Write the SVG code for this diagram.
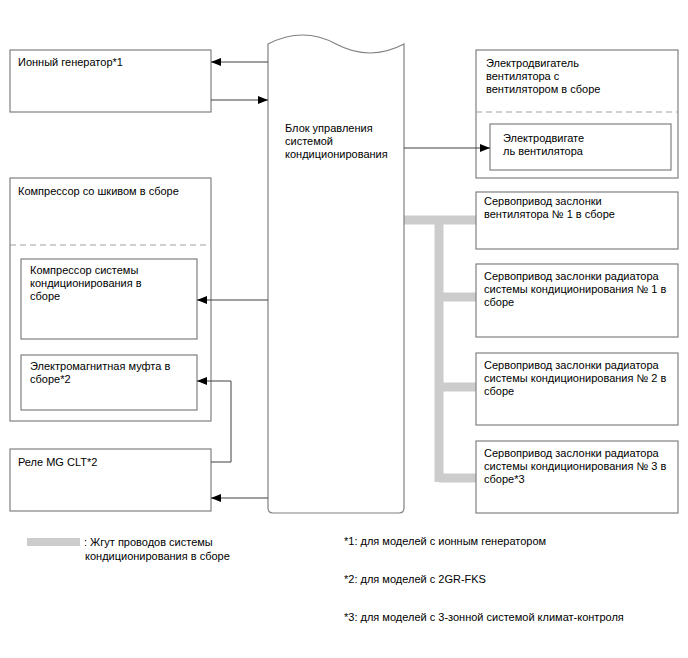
<svg xmlns="http://www.w3.org/2000/svg" width="688" height="658" viewBox="0 0 688 658">
<style>
.box{fill:#fff;stroke:#808080;stroke-width:1.2}
.dash{stroke:#a0a0a0;stroke-width:1.2;stroke-dasharray:6,4;fill:none}
.t{font-family:"Liberation Sans",Arial,sans-serif;font-size:11px;fill:#000}
.c{stroke:#404040;stroke-width:1;fill:none}
.h{stroke:#cccccc;stroke-width:9;fill:none}
</style>
<defs>
<marker id="ar" viewBox="0 0 10 8" refX="10" refY="4" markerWidth="10" markerHeight="8" markerUnits="userSpaceOnUse" orient="auto">
<path d="M0,0 L10,4 L0,8 Z" fill="#000"/>
</marker>
</defs>
<rect width="688" height="658" fill="#fff"/>

<g id="harness">
<path class="h" d="M404,220 H476 M439,220 V482 M439,297 H476 M439,387 H476 M439,478 H476"/>
</g>

<g id="ion">
<rect class="box" x="10" y="50" width="201" height="62"/>
<text class="t" x="18" y="66">Ионный генератор*1</text>
</g>

<g id="ecu">
<path class="box" d="M268,44 Q303,26 336,44 Q370,62 404,44 V508 Q404,513 399,513 H273 Q268,513 268,508 Z"/>
<text class="t" x="285" y="132">Блок управления</text>
<text class="t" x="285" y="145">системой</text>
<text class="t" x="285" y="158">кондиционирования</text>
</g>

<g id="fan">
<rect class="box" x="476" y="50" width="202" height="128"/>
<line class="dash" x1="476" y1="112" x2="678" y2="112"/>
<text class="t" x="486" y="67">Электродвигатель</text>
<text class="t" x="486" y="80">вентилятора с</text>
<text class="t" x="486" y="93">вентилятором в сборе</text>
<g id="fanmotor">
<rect class="box" x="490" y="124" width="181" height="46"/>
<text class="t" x="503" y="142">Электродвигате</text>
<text class="t" x="503" y="155">ль вентилятора</text>
</g>
</g>

<g id="compressor">
<rect class="box" x="10" y="178" width="201" height="243"/>
<line class="dash" x1="10" y1="245" x2="211" y2="245"/>
<text class="t" x="18" y="195">Компрессор со шкивом в сборе</text>
<g id="accomp">
<rect class="box" x="21" y="259" width="176" height="80"/>
<text class="t" x="30" y="274">Компрессор системы</text>
<text class="t" x="30" y="287">кондиционирования в</text>
<text class="t" x="30" y="300">сборе</text>
</g>
<g id="clutch">
<rect class="box" x="21" y="355" width="176" height="55"/>
<text class="t" x="30" y="370">Электромагнитная муфта в</text>
<text class="t" x="30" y="383">сборе*2</text>
</g>
</g>

<g id="relay">
<rect class="box" x="10" y="449" width="201" height="62"/>
<text class="t" x="18" y="466">Реле MG CLT*2</text>
</g>

<g id="servo1">
<rect class="box" x="476" y="192" width="202" height="57"/>
<text class="t" x="484" y="205">Сервопривод заслонки</text>
<text class="t" x="484" y="218">вентилятора № 1 в сборе</text>
</g>
<g id="servo2">
<rect class="box" x="476" y="264" width="202" height="73"/>
<text class="t" x="484" y="280">Сервопривод заслонки радиатора</text>
<text class="t" x="484" y="293">системы кондиционирования № 1 в</text>
<text class="t" x="484" y="306">сборе</text>
</g>
<g id="servo3">
<rect class="box" x="476" y="353" width="202" height="72"/>
<text class="t" x="484" y="369">Сервопривод заслонки радиатора</text>
<text class="t" x="484" y="382">системы кондиционирования № 2 в</text>
<text class="t" x="484" y="395">сборе</text>
</g>
<g id="servo4">
<rect class="box" x="476" y="441" width="202" height="72"/>
<text class="t" x="484" y="457">Сервопривод заслонки радиатора</text>
<text class="t" x="484" y="470">системы кондиционирования № 3 в</text>
<text class="t" x="484" y="483">сборе*3</text>
</g>

<g id="connectors">
<line class="c" x1="268" y1="62" x2="211" y2="62" marker-end="url(#ar)"/>
<line class="c" x1="211" y1="100" x2="268" y2="100" marker-end="url(#ar)"/>
<line class="c" x1="404" y1="148" x2="490" y2="148" marker-end="url(#ar)"/>
<line class="c" x1="268" y1="300" x2="197" y2="300" marker-end="url(#ar)"/>
<polyline class="c" points="211,462 231,462 231,381 197,381" marker-end="url(#ar)"/>
<line class="c" x1="268" y1="498" x2="211" y2="498" marker-end="url(#ar)"/>
</g>

<g id="legend">
<rect x="27" y="538" width="53" height="8" fill="#cccccc"/>
<text class="t" x="84" y="546">: Жгут проводов системы</text>
<text class="t" x="85" y="560">кондиционирования в сборе</text>
<text class="t" x="344" y="545">*1: для моделей с ионным генератором</text>
<text class="t" x="344" y="583">*2: для моделей с 2GR-FKS</text>
<text class="t" x="344" y="621">*3: для моделей с 3-зонной системой климат-контроля</text>
</g>
</svg>
